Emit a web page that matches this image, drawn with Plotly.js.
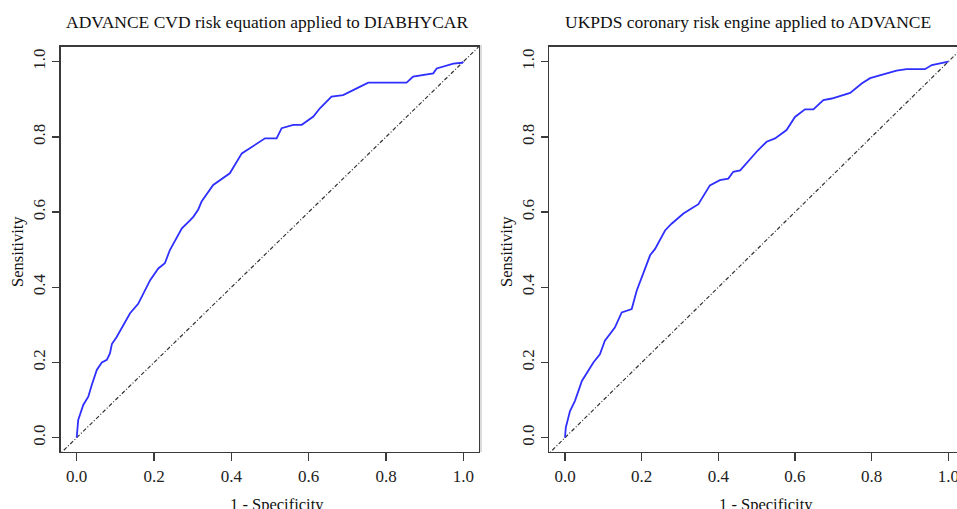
<!DOCTYPE html>
<html>
<head>
<meta charset="utf-8">
<script src="https://cdn.plot.ly/plotly-3.0.1.min.js"></script>
<style>html,body{margin:0;padding:0;background:#fff;overflow:hidden}#chart{width:957px;height:509px}</style>
</head>
<body>
<div id="chart"></div>
<script>
// Left panel: ADVANCE CVD risk equation applied to DIABHYCAR
const fprLeft = [0.0,0.004,0.017,0.030,0.039,0.052,0.065,0.078,0.086,0.091,0.103,0.116,0.138,0.159,0.168,0.190,0.211,0.228,0.241,0.272,0.293,0.302,0.314,0.323,0.353,0.396,0.427,0.448,0.487,0.517,0.530,0.560,0.582,0.612,0.629,0.659,0.689,0.724,0.754,0.853,0.870,0.922,0.931,0.974,0.996,1.0];
const tprLeft = [0.0,0.047,0.087,0.109,0.140,0.180,0.200,0.207,0.224,0.249,0.267,0.291,0.331,0.356,0.375,0.419,0.450,0.464,0.499,0.557,0.578,0.588,0.606,0.628,0.672,0.703,0.756,0.770,0.796,0.796,0.823,0.832,0.832,0.854,0.876,0.907,0.911,0.929,0.944,0.944,0.960,0.969,0.982,0.995,0.997,1.0];
// Right panel: UKPDS coronary risk engine applied to ADVANCE
const fprRight = [0.0,0.002,0.013,0.026,0.044,0.057,0.074,0.091,0.104,0.130,0.148,0.174,0.187,0.222,0.235,0.261,0.278,0.309,0.348,0.378,0.404,0.426,0.439,0.457,0.483,0.504,0.526,0.548,0.578,0.600,0.626,0.648,0.674,0.696,0.744,0.774,0.796,0.831,0.865,0.891,0.939,0.957,0.987,1.0];
const tprRight = [0.0,0.027,0.071,0.098,0.151,0.173,0.200,0.222,0.258,0.293,0.333,0.342,0.391,0.485,0.502,0.551,0.569,0.596,0.621,0.671,0.685,0.689,0.707,0.711,0.742,0.765,0.787,0.796,0.818,0.853,0.873,0.873,0.898,0.902,0.917,0.942,0.956,0.967,0.976,0.980,0.980,0.991,0.997,1.0];
const diagX = [-0.05, 1.05];
const diagY = [-0.05, 1.05];
const tickVals = [0, 0.2, 0.4, 0.6, 0.8, 1.0];
const tickLabels = ['0.0', '0.2', '0.4', '0.6', '0.8', '1.0'];
const titles = ['ADVANCE CVD risk equation applied to DIABHYCAR', 'UKPDS coronary risk engine applied to ADVANCE'];
const xLabel = '1 - Specificity';
const yLabel = 'Sensitivity';

const serif = 'Liberation Serif, Times New Roman, serif';
const blue = '#2f2fff';
const axCol = '#3a3a3a';

const traces = [
  {x: diagX, y: diagY, xaxis: 'x', yaxis: 'y', mode: 'lines', line: {color: '#333', width: 1.2, dash: '4px,2px,1px,2px'}, hoverinfo: 'skip'},
  {x: fprLeft, y: tprLeft, xaxis: 'x', yaxis: 'y', mode: 'lines', line: {color: blue, width: 1.8, shape: 'linear'}},
  {x: diagX, y: diagY, xaxis: 'x2', yaxis: 'y2', mode: 'lines', line: {color: '#333', width: 1.2, dash: '4px,2px,1px,2px'}, hoverinfo: 'skip'},
  {x: fprRight, y: tprRight, xaxis: 'x2', yaxis: 'y2', mode: 'lines', line: {color: blue, width: 1.8, shape: 'linear'}}
];

function xAx(domain, range, anchor) {
  return {domain: domain, range: range, anchor: anchor, tickvals: tickVals, ticktext: tickLabels,
    ticks: 'outside', ticklen: 8, tickwidth: 1.5, tickcolor: axCol, showline: true, mirror: true,
    linecolor: axCol, linewidth: 1.5, showgrid: false, zeroline: false, fixedrange: true,
    ticklabeloverflow: 'allow',
    tickfont: {family: serif, size: 17, color: '#222'}};
}
function yAx(domain, range, anchor, mirror) {
  return {domain: domain, range: range, anchor: anchor, tickvals: tickVals, ticktext: tickLabels,
    ticks: 'outside', ticklen: 7, tickwidth: 1.5, tickcolor: axCol, showline: true, mirror: mirror,
    linecolor: axCol, linewidth: 1.5, showgrid: false, zeroline: false, fixedrange: true, tickangle: -90,
    ticklabeloverflow: 'allow',
    tickfont: {family: serif, size: 17, color: '#222'}};
}

const yDom = [0.1126, 0.9077];
const layout = {
  width: 957, height: 509, margin: {l: 0, r: 0, t: 0, b: 0},
  paper_bgcolor: '#fff', plot_bgcolor: '#fff', showlegend: false,
  xaxis: xAx([0.0634, 0.5005], [-0.0414, 1.0403], 'y'),
  yaxis: yAx(yDom, [-0.0372, 1.039], 'x', true),
  xaxis2: xAx([0.5737, 1.0], [-0.0417, 1.0227], 'y2'),
  yaxis2: yAx(yDom, [-0.0372, 1.039], 'x2', false),
  shapes: [
    {type: 'line', xref: 'paper', yref: 'paper', x0: 481/957, x1: 481/957, y0: 1 - 45/509, y1: 1 - 452/509, line: {color: '#cfcfcf', width: 1.5}}
  ],
  annotations: [
    {text: titles[0], xref: 'paper', yref: 'paper', x: 266.5/957, y: 1 - 22/509, xanchor: 'center', yanchor: 'middle', showarrow: false, font: {family: serif, size: 17.5, color: '#111'}},
    {text: titles[1], xref: 'paper', yref: 'paper', x: 747.5/957, y: 1 - 22/509, xanchor: 'center', yanchor: 'middle', showarrow: false, font: {family: serif, size: 17.5, color: '#111'}},
    {text: xLabel, xref: 'paper', yref: 'paper', x: 277/957, y: 1 - 504/509, xanchor: 'center', yanchor: 'middle', showarrow: false, font: {family: serif, size: 16.5, color: '#111'}},
    {text: xLabel, xref: 'paper', yref: 'paper', x: 766/957, y: 1 - 504/509, xanchor: 'center', yanchor: 'middle', showarrow: false, font: {family: serif, size: 16.5, color: '#111'}},
    {text: yLabel, xref: 'paper', yref: 'paper', x: 18/957, y: 1 - 252/509, xanchor: 'center', yanchor: 'middle', textangle: -90, showarrow: false, font: {family: serif, size: 16.5, color: '#111'}},
    {text: yLabel, xref: 'paper', yref: 'paper', x: 507/957, y: 1 - 252/509, xanchor: 'center', yanchor: 'middle', textangle: -90, showarrow: false, font: {family: serif, size: 16.5, color: '#111'}}
  ]
};

Plotly.newPlot('chart', traces, layout, {displayModeBar: false, staticPlot: true});
</script>
</body>
</html>
